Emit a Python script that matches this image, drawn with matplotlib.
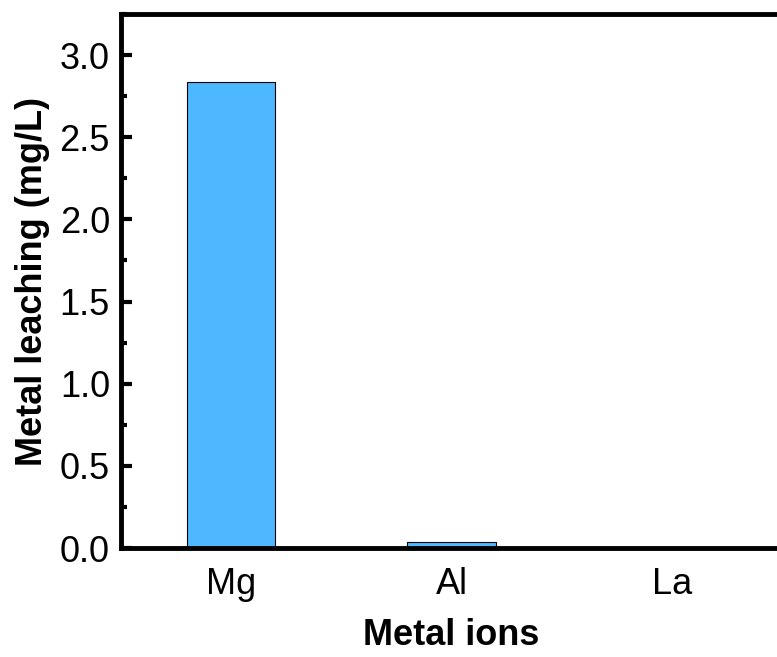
import matplotlib
matplotlib.use("Agg")
import matplotlib.pyplot as plt
from matplotlib.ticker import MultipleLocator, FormatStrFormatter

plt.rcParams['font.family'] = ['Liberation Sans', 'DejaVu Sans']

categories = ["Mg", "Al", "La"]
values = [2.835, 0.036, 0.0]

fig = plt.figure(figsize=(7.77, 6.57), dpi=100)
ax = fig.add_axes([121/777, 1-548/657, (782-121)/777, (548-14)/657])

x = range(len(categories))
ax.bar(x, values, width=0.4, color="#4DB8FF", edgecolor="black", linewidth=0.8)

ax.set_xlim(-0.5, 2.5)
ax.set_ylim(0, 3.25)
ax.set_xticks(list(x))
ax.set_xticklabels(categories)
ax.yaxis.set_major_locator(MultipleLocator(0.5))
ax.yaxis.set_minor_locator(MultipleLocator(0.25))
ax.yaxis.set_major_formatter(FormatStrFormatter('%.1f'))

for s in ax.spines.values():
    s.set_linewidth(3.5)
ax.tick_params(axis='y', which='major', direction='in', length=8, width=3, labelsize=26, pad=8)
ax.tick_params(axis='y', which='minor', direction='in', length=4, width=3)
ax.tick_params(axis='x', which='major', length=0, labelsize=26, pad=14)

ax.set_xlabel("Metal ions", fontsize=26, fontweight='bold', labelpad=11)
ax.set_ylabel("Metal leaching (mg/L)", fontsize=26, fontweight='bold', labelpad=7)

fig.savefig("out.png", dpi=100)
